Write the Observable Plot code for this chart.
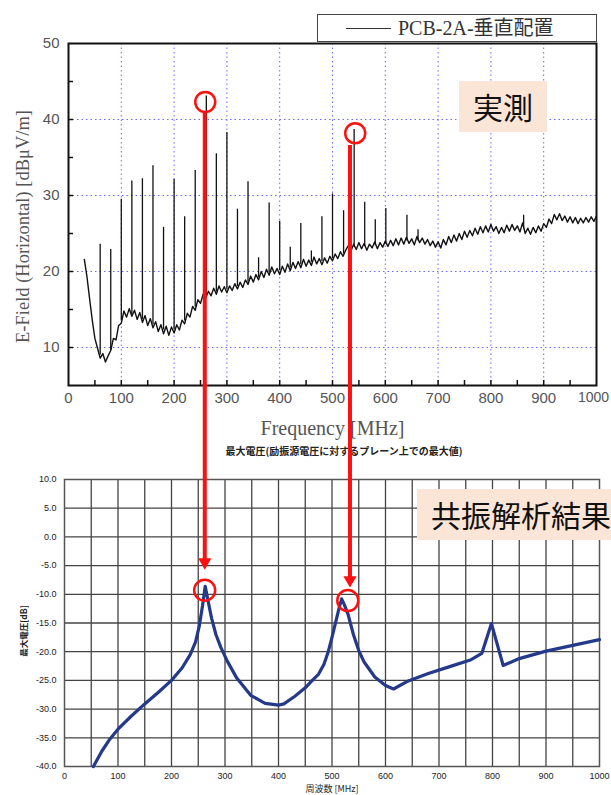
<!DOCTYPE html>
<html>
<head>
<meta charset="utf-8">
<script src="https://cdn.jsdelivr.net/npm/d3@7"></script>
<script src="https://cdn.jsdelivr.net/npm/@observablehq/plot@0.6"></script>
<style>
html, body { margin: 0; padding: 0; background: #fff; }
body { width: 611px; height: 795px; position: relative; overflow: hidden; }
#top, #bottom { position: absolute; left: 0; }
#top { top: 0; z-index: 1; }
#bottom { top: 440px; z-index: 2; }
svg { overflow: visible; }
#legend { position: absolute; left: 317px; top: 14px; width: 278px; height: 26px; border: 1px solid #444; background: #fff; z-index: 3;
  font-family: "Liberation Serif", "Noto Sans CJK JP", serif; font-size: 20px; color: #333; }
#legend .ln { position: absolute; left: 28px; top: 13px; width: 45px; border-top: 1px solid #333; }
#legend .lt { position: absolute; left: 80px; top: 1px; line-height: 24px; white-space: nowrap; }
.tag { position: absolute; background: #fbe5d6; z-index: 3; font-family: "Noto Sans CJK JP", sans-serif; font-size: 30px; color: #111; white-space: nowrap; }
#tag1 { left: 459px; top: 81px; width: 88px; height: 51px; line-height: 51px; text-align: center; }
#tag2 { left: 417px; top: 489px; width: 210px; height: 51px; line-height: 51px; padding-left: 14px; box-sizing: border-box; }
</style>
</head>
<body>
<div id="top"></div>
<div id="bottom"></div>
<div id="legend"><span class="ln"></span><span class="lt"></span></div>
<div class="tag" id="tag1"></div>
<div class="tag" id="tag2"></div>
<script>
// ---------- Top chart (measurement) ----------
const legendLabel = "PCB-2A-垂直配置";
const topTag = "実測";
const topXLabel = "Frequency [MHz]";
const topYLabel = "E-Field (Horizontal) [dBμV/m]";

const traceFreq = [30,35,40,45,50,55,60,65,70,75,80,85,90,95,
100,105,110,115,120,125,130,135,140,145,150,155,160,165,170,175,180,185,190,195,
200,205,210,215,220,225,230,235,240,245,250,255,260,265,270,275,280,285,290,295,
300,305,310,315,320,325,330,335,340,345,350,355,360,365,370,375,380,385,390,395,
400,405,410,415,420,425,430,435,440,445,450,455,460,465,470,475,480,485,490,495,
500,505,510,515,520,525,530,535,540,545,550,555,560,565,570,575,580,585,590,595,
600,605,610,615,620,625,630,635,640,645,650,655,660,665,670,675,680,685,690,695,
700,705,710,715,720,725,730,735,740,745,750,755,760,765,770,775,780,785,790,795,
800,805,810,815,820,825,830,835,840,845,850,855,860,865,870,875,880,885,890,895,
900,905,910,915,920,925,930,935,940,945,950,955,960,965,970,975,980,985,990,995,1000];
const traceLevel = [21.6,19.3,16.4,13.6,11.2,9.9,8.6,9.2,8.1,8.9,9.6,11.2,11.0,12.9,
13.2,14.8,14.0,15.1,14.1,14.9,13.7,14.6,13.3,14.2,12.9,13.8,12.6,13.4,12.1,13.0,11.8,12.8,11.6,12.7,
11.9,13.0,12.3,13.6,13.1,14.5,14.0,15.4,14.9,16.3,15.8,17.0,16.5,17.4,16.8,17.8,17.0,18.1,17.3,18.0,
17.2,18.1,17.5,18.4,17.7,18.6,17.9,18.9,18.3,19.4,18.6,19.6,18.9,20.0,19.2,20.3,19.5,20.6,19.7,20.4,
19.6,20.7,19.9,21.0,20.1,21.2,20.4,21.3,20.5,21.6,20.7,21.5,20.8,21.9,21.0,21.7,20.9,21.8,21.1,22.0,
21.4,22.3,21.7,22.6,22.0,22.8,23.4,22.7,23.6,22.9,23.8,23.0,23.7,22.8,23.6,23.1,23.9,23.0,23.8,23.2,
24.0,23.3,24.1,23.4,24.3,23.5,24.4,23.6,24.5,23.7,24.3,23.5,24.6,23.8,24.4,23.6,24.2,23.4,24.0,23.2,
23.9,23.1,24.2,23.5,24.6,23.8,24.8,24.0,25.0,24.2,25.3,24.5,25.4,24.7,25.7,24.9,25.9,25.1,26.0,25.2,
26.2,25.3,25.9,25.0,25.8,25.1,26.1,25.3,26.2,25.4,26.0,25.2,26.4,25.0,25.7,24.9,25.8,25.1,26.0,25.3,
26.3,25.8,26.9,26.3,27.5,26.8,27.6,26.7,27.3,26.5,27.2,26.4,27.1,26.3,27.0,26.4,27.1,26.5,27.2,26.6,27.3];

const spikeFreq = [60,80,100,120,140,160,180,200,220,240,261,280,300,320,340,360,380,400,420,440,460,480,500,521,541,561,581,601,641,662,862];
const spikePeak = [23.6,22.9,29.5,31.9,32.2,33.9,25.8,32.1,27.2,33.3,43.1,35.5,38.3,28.2,31.8,21.8,29.0,26.6,23.2,26.3,22.7,27.2,30.2,28.0,38.7,29.1,26.8,28.3,27.4,25.5,27.4];
const spikeBase = [9.0,9.6,13.5,14.3,13.7,13.0,12.3,12.3,13.5,15.3,16.8,17.3,17.6,18.0,18.6,19.2,19.8,20.1,20.5,20.9,21.2,21.3,21.7,22.3,23.2,23.3,23.4,23.6,24.0,24.0,25.6];

const topXTicks = [0,100,200,300,400,500,600,700,800,900];
const topXLastTick = [1000];
const topXGrid = [100,200,300,400,500,600,700,800,900];
const topXMinor = [50,100,150,200,250,300,350,400,450,500,550,600,650,700,750,800,850,900,950];
const topYTicks = [10,20,30,40,50];
const topYGrid = [10,20,30,40];
const topYMinor = [10,15,20,25,30,35,40,45];

const topCircleFreq = [259, 543];
const topCircleLevel = [42.3, 38.2];

// ---------- Bottom chart (simulation) ----------
const botTitle = "最大電圧(励振源電圧に対するプレーン上での最大値)";
const botTag = "共振解析結果";
const botXLabel = "周波数 [MHz]";
const botYLabel = "最大電圧[dB]";

const simFreq = [54,70,85,100,125,150,175,200,220,235,245,252,258,263,268,275,283,292,304,322,348,375,400,410,430,450,460,475,485,493,500,507,513,518,523,530,540,550,560,580,600,615,640,680,720,760,780,798,820,850,900,950,1000];
const simLevel = [-40,-37.3,-35.2,-33.5,-31.2,-29.1,-27.1,-25,-22.8,-20.5,-18.3,-15.5,-12,-8.6,-11,-14.2,-17,-19.2,-21.6,-24.6,-27.6,-29,-29.3,-29.1,-27.8,-26.3,-25.3,-23.9,-22.2,-20,-17.5,-14.8,-12.5,-10.8,-11.8,-13.5,-17,-19.8,-21.8,-24.4,-25.9,-26.5,-25.2,-23.8,-22.6,-21.4,-20.3,-15.1,-22.4,-21.2,-19.9,-18.9,-17.9];

const botXTicks = [0,100,200,300,400,500,600,700,800,900,1000];
const botXGrid = [50,100,150,200,250,300,350,400,450,500,550,600,650,700,750,800,850,900,950];
const botYTicks = [10,5,0,-5,-10,-15,-20,-25,-30,-35,-40];
const botYGrid = [5,0,-5,-10,-15,-20,-25,-30,-35];

const botCircleFreq = [262, 529.5];
const botCircleLevel = [-9.3, -11.1];

// Arrows (in bottom-chart units, reaching up to the top chart circles)
const arrowFreq = [262.2, 533.6];
const arrowFrom = [73.9, 68.2];
const arrowHead = [-4.4, -7.5];

// ---------- build tables ----------
const trace = traceFreq.map((f, i) => ({f, v: traceLevel[i]}));
const spikes = spikeFreq.map((f, i) => ({f, peak: spikePeak[i], base: spikeBase[i]}));
const topCircles = topCircleFreq.map((f, i) => ({f, v: topCircleLevel[i]}));
const sim = simFreq.map((f, i) => ({f, v: simLevel[i]}));
const botCircles = botCircleFreq.map((f, i) => ({f, v: botCircleLevel[i]}));
const arrows = arrowFreq.map((f, i) => ({f, from: arrowFrom[i], head: arrowHead[i]}));

const serif = "Liberation Serif, DejaVu Serif, serif";
const sans = "Liberation Sans, Arial, sans-serif";
const plain = d => String(d);

const topPlot = Plot.plot({
  width: 611, height: 440,
  marginLeft: 68, marginRight: 15, marginTop: 43, marginBottom: 55,
  x: {domain: [0, 1000]},
  y: {domain: [5, 50]},
  style: {fontFamily: sans, fontSize: "15px", color: "#555", background: "transparent"},
  marks: [
    Plot.gridX(topXGrid, {stroke: "#5b5bff", strokeOpacity: 0.9, strokeDasharray: "1.5,3"}),
    Plot.gridY(topYGrid, {stroke: "#5b5bff", strokeOpacity: 0.9, strokeDasharray: "1.5,3"}),
    Plot.ruleX(spikes, {x: "f", y1: "base", y2: "peak", stroke: "#111", strokeWidth: 1.3}),
    Plot.line(trace, {x: "f", y: "v", stroke: "#111", strokeWidth: 1.4}),
    Plot.axisX(topXMinor, {tickSize: 5, dy: -5, fill: "none", stroke: "#111", strokeWidth: 1.5, label: null}),
    Plot.axisY(topYMinor, {tickSize: 5, dx: 5, fill: "none", stroke: "#111", strokeWidth: 1.5, label: null}),
    Plot.axisX(topXTicks, {tickSize: 0, tickPadding: 7, fill: "#555", label: null, tickFormat: plain}),
    Plot.axisX(topXLastTick, {tickSize: 0, tickPadding: 7, dx: -3, fontSize: 14, fill: "#555", label: null, tickFormat: plain}),
    Plot.axisY(topYTicks, {tickSize: 0, tickPadding: 9, fill: "#555", label: null, tickFormat: plain}),
    Plot.frame({stroke: "#111", strokeWidth: 2}),
    Plot.text([topXLabel], {frameAnchor: "bottom", text: d => d, dy: 43, lineAnchor: "middle", fontFamily: serif, fontSize: 20, fill: "#555"}),
    Plot.text([topYLabel], {frameAnchor: "left", text: d => d, dx: -45, dy: 12, rotate: -90, textAnchor: "middle", lineAnchor: "middle", fontFamily: serif, fontSize: 18.5, fill: "#555"}),
    Plot.dot(topCircles, {x: "f", y: "v", r: 10, stroke: "#ff1010", strokeWidth: 2.5, fill: "none"})
  ]
});
document.getElementById("top").appendChild(topPlot);

const botPlot = Plot.plot({
  width: 611, height: 355,
  marginLeft: 64, marginRight: 12, marginTop: 39, marginBottom: 29,
  x: {domain: [0, 1000]},
  y: {domain: [-40, 10]},
  style: {fontFamily: sans, fontSize: "9px", color: "#222", background: "transparent"},
  marks: [
    Plot.gridX(botXGrid, {stroke: "#444", strokeOpacity: 1, strokeWidth: 1.3}),
    Plot.gridY(botYGrid, {stroke: "#444", strokeOpacity: 1, strokeWidth: 1.3}),
    Plot.frame({stroke: "#555", strokeWidth: 1.5}),
    Plot.line(sim, {x: "f", y: "v", stroke: "#24398a", strokeWidth: 3.2, strokeLinejoin: "round"}),
    Plot.axisX(botXTicks, {tickSize: 0, tickPadding: 6, fill: "#222", label: null, tickFormat: plain}),
    Plot.axisY(botYTicks, {tickSize: 0, tickPadding: 8, fill: "#222", label: null, tickFormat: d => d.toFixed(1)}),
    Plot.text([botTitle], {frameAnchor: "top", text: d => d, dx: 12, dy: -28, lineAnchor: "middle", fontSize: 10, fontWeight: "bold", fill: "#222", fontFamily: "Noto Sans CJK JP, sans-serif"}),
    Plot.text([botXLabel], {frameAnchor: "bottom", text: d => d, dy: 23, lineAnchor: "middle", fontSize: 9, fill: "#222", fontFamily: "Noto Sans CJK JP, sans-serif"}),
    Plot.text([botYLabel], {frameAnchor: "left", text: d => d, dx: -40, dy: 8, rotate: -90, textAnchor: "middle", lineAnchor: "middle", fontSize: 8.5, fontWeight: "bold", fill: "#222", fontFamily: "Noto Sans CJK JP, sans-serif"}),
    Plot.ruleX(arrows, {x: "f", y1: "from", y2: "head", stroke: "#ff1010", strokeWidth: 4}),
    Plot.dot(arrows, {x: "f", y: "head", symbol: "triangle", rotate: 180, r: 4.9, fill: "#ff1010", stroke: "none"}),
    Plot.dot(botCircles, {x: "f", y: "v", r: 10.5, stroke: "#ff1010", strokeWidth: 2.5, fill: "none"})
  ]
});
document.getElementById("bottom").appendChild(botPlot);

document.querySelector("#legend .lt").textContent = legendLabel;
document.getElementById("tag1").textContent = topTag;
document.getElementById("tag2").textContent = botTag;
</script>
</body>
</html>
